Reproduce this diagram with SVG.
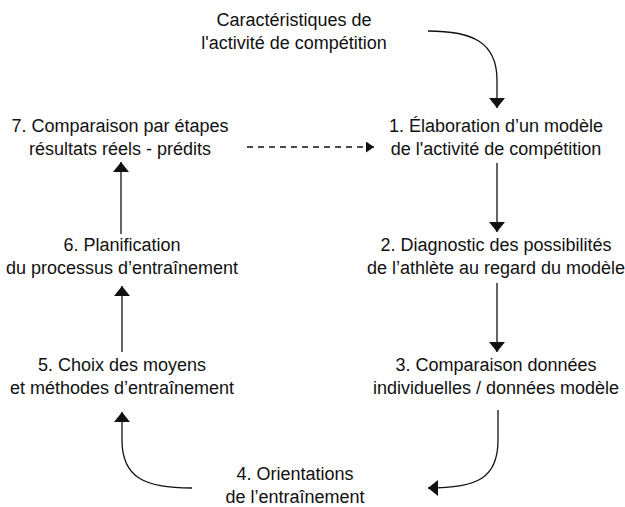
<svg xmlns="http://www.w3.org/2000/svg" width="625" height="507" viewBox="0 0 625 507">
<style>
text{font-family:"Liberation Sans",Arial,sans-serif;font-size:18px;fill:#111;text-anchor:middle}
.c{fill:none;stroke:#111;stroke-width:1.3}
.d{stroke-dasharray:6 5}
</style>
<defs>
<marker id="ah" markerUnits="userSpaceOnUse" markerWidth="10" markerHeight="16" viewBox="0 0 10 16" refX="10" refY="8" orient="auto"><path d="M0,0 L10,8 L0,16 z" fill="#111"/></marker>
<marker id="ahs" markerUnits="userSpaceOnUse" markerWidth="8" markerHeight="11" viewBox="0 0 8 11" refX="8" refY="5.5" orient="auto"><path d="M0,0 L8,5.5 L0,11 z" fill="#111"/></marker>
</defs>
<rect width="625" height="507" fill="#fff"/>
<g id="connectors">
<path class="c" d="M428,31 C472,31 497,42 497,80 L497,108" marker-end="url(#ah)"/>
<path class="c" d="M497,163 L497,232" marker-end="url(#ah)"/>
<path class="c" d="M497,283 L497,352" marker-end="url(#ah)"/>
<path class="c" d="M498,410 L498,440 C498,478 478,488 428,488" marker-end="url(#ah)"/>
<path class="c" d="M192,488 C145,488 122,478 122,440 L122,412" marker-end="url(#ah)"/>
<path class="c" d="M122,352 L122,286" marker-end="url(#ah)"/>
<path class="c" d="M121,234 L121,162" marker-end="url(#ah)"/>
<path class="c d" d="M247,147 L374,147" marker-end="url(#ahs)"/>
</g>
<g id="source"><text x="294" y="26">Caractéristiques de</text><text x="294" y="49">l'activité de compétition</text></g>
<g id="n1"><text x="496" y="132">1. Élaboration d’un modèle</text><text x="496" y="155">de l'activité de compétition</text></g>
<g id="n2"><text x="496" y="251">2. Diagnostic des possibilités</text><text x="496" y="274">de l’athlète au regard du modèle</text></g>
<g id="n3"><text x="496" y="371">3. Comparaison données</text><text x="496" y="394">individuelles / données modèle</text></g>
<g id="n4"><text x="295" y="480">4. Orientations</text><text x="295" y="503">de l’entraînement</text></g>
<g id="n5"><text x="122" y="371">5. Choix des moyens</text><text x="122" y="394">et méthodes d’entraînement</text></g>
<g id="n6"><text x="122" y="251">6. Planification</text><text x="122" y="274">du processus d’entraînement</text></g>
<g id="n7"><text x="120" y="132">7. Comparaison par étapes</text><text x="120" y="155">résultats réels - prédits</text></g>
</svg>
